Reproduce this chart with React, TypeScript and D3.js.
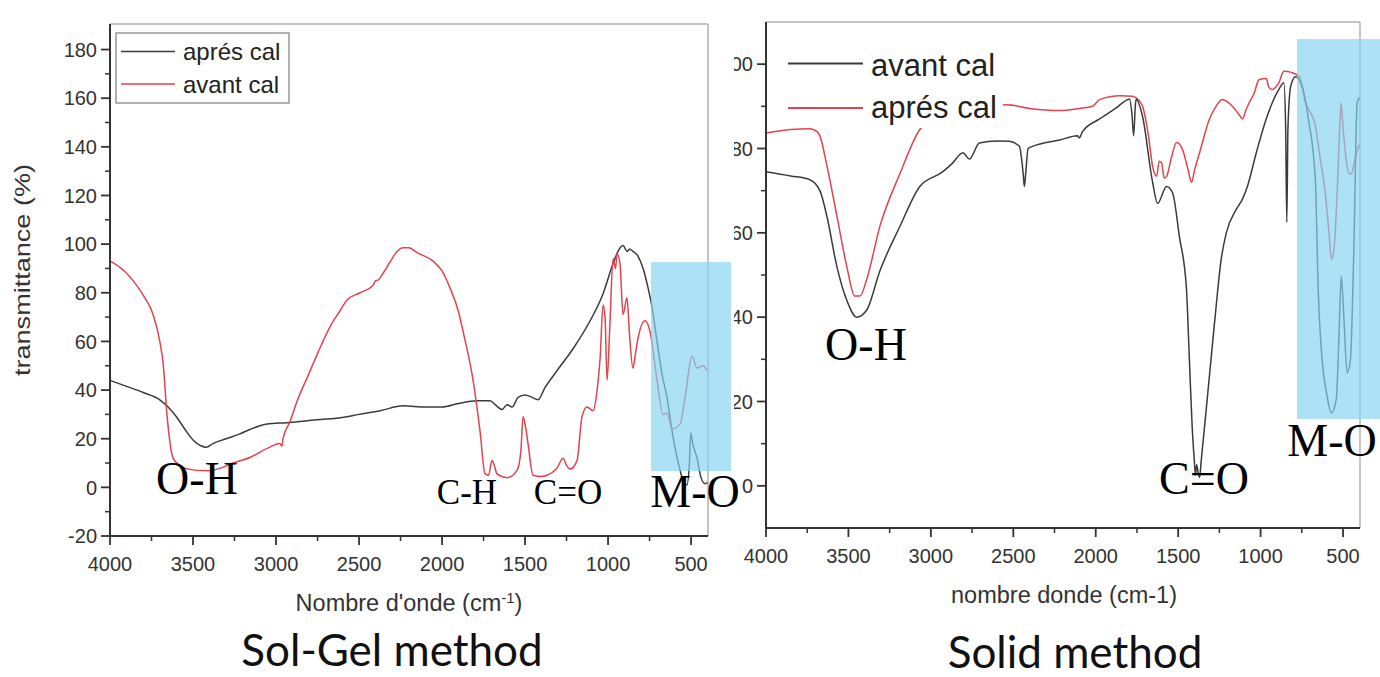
import React from 'react';
import * as d3 from 'd3';

type P = [number, number];

// ---------- shared tick values ----------
const xMajorTicks = [4000, 3500, 3000, 2500, 2000, 1500, 1000, 500];
const xMinorTicks = [3750, 3250, 2750, 2250, 1750, 1250, 750];
const solGelYTicks = [-20, 0, 20, 40, 60, 80, 100, 120, 140, 160, 180];
const solGelYMinor = [-10, 10, 30, 50, 70, 90, 110, 130, 150, 170];
const solidYTicks = [0, 20, 40, 60, 80, 100];
const solidYMinor = [10, 30, 50, 70, 90];

// ---------- Sol-Gel method (left) ----------
const solGelApres: P[] = [
  [4000, 44], [3900, 41.5], [3800, 39], [3700, 36], [3650, 33], [3600, 29], [3550, 24], [3500, 19.5],
  [3450, 17], [3420, 16.5], [3380, 18], [3300, 20], [3217, 22], [3150, 24], [3054, 26], [2934, 26.6],
  [2800, 27.5], [2614, 28.6], [2500, 30], [2373, 31.5], [2235, 33.5], [2100, 33], [2000, 33], [1900, 34.5],
  [1789, 35.6], [1711, 35.6], [1680, 34], [1639, 32], [1608, 34], [1578, 33], [1542, 37], [1500, 38],
  [1458, 37], [1422, 36], [1380, 41], [1307, 48], [1211, 57], [1108, 68.5], [1030, 79.6], [970, 92],
  [940, 97], [910, 99.4], [885, 97], [870, 98], [850, 97], [819, 95], [789, 90], [759, 82], [735, 74],
  [705, 60], [675, 46.6], [645, 37], [614, 23], [590, 14], [566, 7], [545, 2], [525, 1], [510, 10],
  [502, 22.5], [490, 18], [464, 12], [440, 4], [415, 1.5], [400, 2],
];
const solGelAvant: P[] = [
  [4000, 93], [3950, 91], [3861, 85], [3800, 79], [3740, 71], [3700, 60], [3680, 51], [3657, 30],
  [3620, 12], [3580, 9], [3536, 7.6], [3416, 6.8], [3330, 8], [3259, 10], [3150, 12.5], [3054, 16],
  [2976, 18], [2964, 17], [2958, 20], [2916, 27], [2870, 36], [2813, 45], [2750, 55], [2675, 66],
  [2620, 72], [2572, 77], [2494, 80], [2416, 83], [2400, 85], [2392, 85], [2355, 88], [2310, 93],
  [2271, 97], [2235, 98.5], [2200, 98.5], [2150, 96.5], [2054, 93], [2000, 89], [1952, 82], [1900, 72],
  [1873, 64], [1813, 44], [1771, 23], [1741, 5.5], [1720, 5], [1699, 11], [1685, 9], [1669, 5.5],
  [1608, 4], [1548, 7], [1525, 15], [1512, 29], [1495, 24], [1482, 18], [1452, 5], [1400, 4.5],
  [1367, 5], [1307, 8], [1271, 12], [1250, 9], [1229, 7.5], [1187, 11], [1157, 29], [1127, 33],
  [1090, 31.5], [1066, 40], [1048, 53], [1030, 75], [1018, 70], [1006, 44], [990, 65], [970, 94],
  [955, 90], [946, 96], [928, 92], [910, 71], [886, 78], [870, 62], [850, 49], [835, 55], [819, 61.5],
  [777, 68.5], [747, 64], [705, 44], [669, 30], [645, 30.5], [614, 24], [566, 26], [536, 37],
  [494, 54], [464, 49], [428, 50], [404, 48],
];

// ---------- Solid method (right) ----------
const solidAvant: P[] = [
  [4000, 74.5], [3850, 73.5], [3734, 72.6], [3673, 70], [3631, 64], [3570, 52], [3510, 44], [3450, 40],
  [3389, 41.7], [3309, 51], [3188, 61.5], [3067, 71], [2927, 74.5], [2867, 76.6], [2806, 79], [2766, 77.5],
  [2706, 81.3], [2600, 81.8], [2524, 81.7], [2463, 80.5], [2440, 74], [2433, 71], [2425, 74], [2410, 80],
  [2383, 80.5], [2220, 82], [2110, 83], [2100, 82.5], [2080, 84], [1977, 87], [1880, 89.5], [1795, 91.7],
  [1780, 88], [1770, 83], [1760, 90], [1755, 91.7], [1716, 87.6], [1655, 72], [1625, 67], [1570, 71],
  [1534, 69.5], [1492, 59], [1450, 47], [1432, 30], [1415, 14], [1402, 6], [1395, 2.5], [1388, 5],
  [1378, 3], [1370, 2], [1360, 6], [1330, 18], [1281, 38], [1238, 54], [1208, 60], [1147, 65.6],
  [1110, 68], [1080, 71], [1026, 79], [966, 87], [889, 94], [859, 95.6], [848, 85], [841, 62.5],
  [834, 85], [817, 94.8], [788, 97], [749, 94.8], [710, 87], [668, 72.7], [650, 46], [627, 30],
  [600, 22], [571, 17.3], [541, 20.5], [525, 35], [511, 49.7], [495, 40], [475, 26.8], [455, 30],
  [435, 55], [414, 91], [400, 92],
];
const solidApres: P[] = [
  [4000, 83.7], [3850, 84.5], [3734, 84.7], [3690, 84], [3673, 83], [3631, 76], [3570, 64], [3510, 52],
  [3461, 45], [3430, 45], [3389, 49], [3309, 61.6], [3188, 74], [3067, 84.5], [3000, 87], [2900, 89],
  [2750, 90], [2540, 90.4], [2400, 89.5], [2220, 89], [2100, 89.5], [2020, 90], [1977, 91.6], [1850, 92.5],
  [1777, 92.4], [1740, 91.5], [1716, 90], [1680, 83], [1655, 75.8], [1631, 73.4], [1615, 77], [1600, 76.6],
  [1585, 73], [1570, 73.4], [1540, 78], [1510, 81.4], [1474, 79.8], [1440, 75], [1419, 72], [1400, 75],
  [1370, 79], [1310, 87], [1270, 90], [1232, 91.6], [1171, 90], [1130, 88], [1110, 87], [1090, 89],
  [1070, 90.8], [1040, 93], [1010, 96.3], [966, 96.6], [950, 94.5], [929, 94], [889, 95.6], [859, 98.3],
  [809, 98], [764, 97], [728, 91], [668, 85.4], [640, 78], [608, 69.5], [585, 60], [571, 53.7],
  [555, 56], [535, 70], [520, 85], [511, 90.8], [500, 85], [480, 77], [460, 74], [450, 74], [430, 77],
  [410, 80], [397, 81],
];

const BLACK = '#3b3b3b';
const RED = '#e2434d';
const AXIS = '#333';
const FRAME = '#b0b0b0';
const SANS = '"Liberation Sans", Arial, sans-serif';
const SERIF = '"Liberation Serif", "Times New Roman", serif';

const smooth = (x: d3.ScaleLinear<number, number>, y: d3.ScaleLinear<number, number>) =>
  d3.line<P>().x(d => x(d[0])).y(d => y(d[1])).curve(d3.curveMonotoneX);

function SolGelChart() {
  const x = d3.scaleLinear().domain([4000, 398]).range([110, 708]);
  const y = d3.scaleLinear().domain([-20, 190.5]).range([536, 24]);
  const line = smooth(x, y);
  const [x0, x1] = x.range();
  const [yb, yt] = y.range();
  return (
    <g>
      {/* frame */}
      <line x1={x0} x2={x1} y1={yt} y2={yt} stroke={FRAME} strokeWidth={1.5} />
      <line x1={x1} x2={x1} y1={yt} y2={yb} stroke={FRAME} strokeWidth={1.5} />
      {/* curves */}
      <path d={line(solGelApres) || ''} fill="none" stroke={BLACK} strokeWidth={1.5} />
      <path d={line(solGelAvant) || ''} fill="none" stroke={RED} strokeWidth={1.5} />
      {/* axes */}
      <line x1={x0} x2={x0} y1={yt} y2={yb} stroke={AXIS} strokeWidth={2} />
      <line x1={x0} x2={x1} y1={yb} y2={yb} stroke={AXIS} strokeWidth={2} />
      {solGelYTicks.map(t => (
        <g key={'y' + t}>
          <line x1={x0 - 9} x2={x0} y1={y(t)} y2={y(t)} stroke={AXIS} strokeWidth={1.8} />
          <text x={x0 - 13} y={y(t)} dy="0.36em" textAnchor="end" fontFamily={SANS} fontSize={20} fill="#333">{t}</text>
        </g>
      ))}
      {solGelYMinor.map(t => (
        <line key={'ym' + t} x1={x0 - 5} x2={x0} y1={y(t)} y2={y(t)} stroke={AXIS} strokeWidth={1.5} />
      ))}
      {xMajorTicks.map(t => (
        <g key={'x' + t}>
          <line x1={x(t)} x2={x(t)} y1={yb} y2={yb + 9} stroke={AXIS} strokeWidth={1.8} />
          <text x={x(t)} y={yb + 35} textAnchor="middle" fontFamily={SANS} fontSize={20} fill="#333">{t}</text>
        </g>
      ))}
      {xMinorTicks.map(t => (
        <line key={'xm' + t} x1={x(t)} x2={x(t)} y1={yb} y2={yb + 5} stroke={AXIS} strokeWidth={1.5} />
      ))}
      {/* axis titles */}
      <text transform="translate(30,270) rotate(-90)" textAnchor="middle" fontFamily={SANS} fontSize={22} fill="#333"
        textLength={212} lengthAdjust="spacingAndGlyphs">transmittance (%)</text>
      <text x={409} y={611} textAnchor="middle" fontFamily={SANS} fontSize={23.5} fill="#333">
        Nombre d'onde (cm<tspan dy={-8} fontSize={15}>-1</tspan><tspan dy={8}>)</tspan>
      </text>
      {/* legend */}
      <rect x={116} y={33} width={173} height={70} fill="#fff" stroke="#888" strokeWidth={1.3} />
      <line x1={121} x2={175} y1={51.5} y2={51.5} stroke={BLACK} strokeWidth={1.6} />
      <text x={183} y={60} fontFamily={SANS} fontSize={24} fill="#222">aprés cal</text>
      <line x1={121} x2={175} y1={84} y2={84} stroke={RED} strokeWidth={1.6} />
      <text x={183} y={93} fontFamily={SANS} fontSize={24} fill="#222">avant cal</text>
      {/* highlight */}
      <rect x={651} y={262} width={80} height={209} fill="#86d3f2" opacity={0.68} />
      {/* annotations */}
      <text x={197} y={494} textAnchor="middle" fontFamily={SERIF} fontSize={46} fill="#000">O-H</text>
      <text x={467} y={504} textAnchor="middle" fontFamily={SERIF} fontSize={35} fill="#000">C-H</text>
      <text x={568} y={504} textAnchor="middle" fontFamily={SERIF} fontSize={35} fill="#000">C=O</text>
      <text x={695} y={507} textAnchor="middle" fontFamily={SERIF} fontSize={46} fill="#000">M-O</text>
    </g>
  );
}

function SolidChart() {
  const x = d3.scaleLinear().domain([4000, 397]).range([766, 1360]);
  const y = d3.scaleLinear().domain([-10, 110]).range([528, 22]);
  const line = smooth(x, y);
  const [x0, x1] = x.range();
  const [yb, yt] = y.range();
  return (
    <g>
      <line x1={x0} x2={x1} y1={yt} y2={yt} stroke={FRAME} strokeWidth={1.5} />
      <line x1={x1} x2={x1} y1={yt} y2={yb} stroke={FRAME} strokeWidth={1.5} />
      <path d={line(solidApres) || ''} fill="none" stroke={RED} strokeWidth={1.5} />
      <path d={line(solidAvant) || ''} fill="none" stroke={BLACK} strokeWidth={1.5} />
      <line x1={x0} x2={x0} y1={yt} y2={yb} stroke={AXIS} strokeWidth={2} />
      <line x1={x0} x2={x1} y1={yb} y2={yb} stroke={AXIS} strokeWidth={2} />
      {solidYTicks.map(t => (
        <g key={'y' + t}>
          <line x1={x0 - 9} x2={x0} y1={y(t)} y2={y(t)} stroke={AXIS} strokeWidth={1.8} />
          <text x={x0 - 13} y={y(t)} dy="0.36em" textAnchor="end" fontFamily={SANS} fontSize={20} fill="#333">{t}</text>
        </g>
      ))}
      {solidYMinor.map(t => (
        <line key={'ym' + t} x1={x0 - 5} x2={x0} y1={y(t)} y2={y(t)} stroke={AXIS} strokeWidth={1.5} />
      ))}
      {xMajorTicks.map(t => (
        <g key={'x' + t}>
          <line x1={x(t)} x2={x(t)} y1={yb} y2={yb + 9} stroke={AXIS} strokeWidth={1.8} />
          <text x={x(t)} y={yb + 35} textAnchor="middle" fontFamily={SANS} fontSize={20} fill="#333">{t}</text>
        </g>
      ))}
      {xMinorTicks.map(t => (
        <line key={'xm' + t} x1={x(t)} x2={x(t)} y1={yb} y2={yb + 5} stroke={AXIS} strokeWidth={1.5} />
      ))}
      <text x={1064} y={603} textAnchor="middle" fontFamily={SANS} fontSize={23.5} fill="#333">nombre donde (cm-1)</text>
      {/* legend */}
      <rect x={785} y={40} width={218} height={88} fill="#fff" />
      <line x1={788} x2={863} y1={63.5} y2={63.5} stroke={BLACK} strokeWidth={1.8} />
      <text x={871} y={76} fontFamily={SANS} fontSize={31} fill="#222">avant cal</text>
      <line x1={788} x2={863} y1={108} y2={108} stroke={RED} strokeWidth={1.8} />
      <text x={871} y={118} fontFamily={SANS} fontSize={31} fill="#222">aprés cal</text>
      <rect x={1297} y={39} width={83} height={380} fill="#86d3f2" opacity={0.68} />
      <text x={866} y={360} textAnchor="middle" fontFamily={SERIF} fontSize={46} fill="#000">O-H</text>
      <text x={1204} y={494} textAnchor="middle" fontFamily={SERIF} fontSize={46} fill="#000">C=O</text>
      <text x={1332} y={456} textAnchor="middle" fontFamily={SERIF} fontSize={46} fill="#000">M-O</text>
    </g>
  );
}

export default function App() {
  return (
    <svg width={1380} height={677} style={{ position: 'absolute', left: 0, top: 0, background: '#fff' }}>
      <rect x={0} y={0} width={1380} height={677} fill="#fff" />
      <SolidChart />
      <rect x={0} y={0} width={734} height={677} fill="#fff" />
      <SolGelChart />
      <text x={392} y={666} textAnchor="middle" fontFamily="Lato, sans-serif" fontSize={44} fill="#111">Sol-Gel method</text>
      <text x={1075} y={668} textAnchor="middle" fontFamily="Lato, sans-serif" fontSize={44} fill="#111">Solid method</text>
    </svg>
  );
}
